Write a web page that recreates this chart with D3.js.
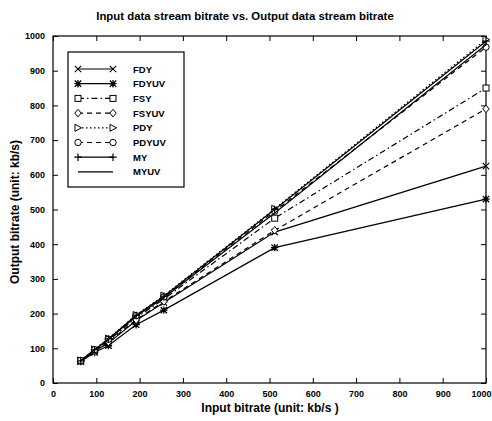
<!DOCTYPE html>
<html>
<head>
<meta charset="utf-8">
<script src="https://cdn.jsdelivr.net/npm/d3@7"></script>
<style>
  body { margin: 0; background: #fff; }
  text { font-family: "Liberation Sans", Arial, sans-serif; font-weight: bold; fill: #000; }
</style>
</head>
<body>
<div id="chart"></div>
<script>
var width = 492, height = 421;

// input bitrates (kb/s)
var inputRates = [64, 96, 128, 192, 256, 512, 1000];

// output bitrate per method
var FDY   = [63, 92, 115, 180, 232, 435, 625];
var FDYUV = [62, 88, 108, 168, 210, 390, 530];
var FSY   = [64, 94, 122, 188, 242, 475, 850];
var FSYUV = [63, 92, 118, 182, 235, 440, 790];
var PDY   = [65, 97, 128, 196, 252, 502, 990];
var PDYUV = [65, 96, 126, 194, 248, 495, 968];
var MY    = [64, 96, 127, 195, 250, 500, 985];
var MYUV  = [64, 95, 125, 192, 246, 490, 975];

var seriesNames = ["FDY", "FDYUV", "FSY", "FSYUV", "PDY", "PDYUV", "MY", "MYUV"];
var seriesValues = [FDY, FDYUV, FSY, FSYUV, PDY, PDYUV, MY, MYUV];
var markers = ["x", "star", "square", "diamond", "triangle", "circle", "plus", "none"];
var dashes = [null, null, "6,3,1.5,3", "5,4", "1.5,2.5", "5,4", null, null];

var xTicks = [0, 100, 200, 300, 400, 500, 600, 700, 800, 900, 1000];
var yTicks = [0, 100, 200, 300, 400, 500, 600, 700, 800, 900, 1000];

var margin = {left: 53, right: 6, top: 36, bottom: 38};

var svg = d3.select("#chart").append("svg").attr("width", width).attr("height", height);

var x = d3.scaleLinear().domain([0, 1000]).range([margin.left, width - margin.right]);
var y = d3.scaleLinear().domain([0, 1000]).range([height - margin.bottom, margin.top]);

// frame
svg.append("rect")
    .attr("x", x(0)).attr("y", y(1000))
    .attr("width", x(1000) - x(0)).attr("height", y(0) - y(1000))
    .attr("fill", "none").attr("stroke", "#000").attr("stroke-width", 1.2);

var tickLen = 5;
var fmt = d3.format("d");
svg.append("g").attr("transform", "translate(0," + y(0) + ")")
    .call(d3.axisBottom(x).tickValues(xTicks).tickFormat(fmt).tickSizeInner(-tickLen).tickSizeOuter(0).tickPadding(8))
    .call(function(g){
        g.select(".domain").remove();
        g.selectAll("text").attr("font-size", 9).style("font-family", "inherit");
        // keep the last label inside the window
        g.selectAll(".tick").filter(function(d){ return d === 1000; }).select("text")
            .attr("text-anchor", "end").attr("x", width - x(1000) - 1);
    });
svg.append("g").attr("transform", "translate(0," + y(1000) + ")")
    .call(d3.axisTop(x).tickValues(xTicks).tickSizeInner(-tickLen).tickSizeOuter(0).tickFormat(""))
    .call(function(g){ g.select(".domain").remove(); });
svg.append("g").attr("transform", "translate(" + x(0) + ",0)")
    .call(d3.axisLeft(y).tickValues(yTicks).tickFormat(fmt).tickSizeInner(-tickLen).tickSizeOuter(0).tickPadding(8))
    .call(function(g){ g.select(".domain").remove(); g.selectAll("text").attr("font-size", 9).style("font-family", "inherit"); });
svg.append("g").attr("transform", "translate(" + x(1000) + ",0)")
    .call(d3.axisRight(y).tickValues(yTicks).tickSizeInner(-tickLen).tickSizeOuter(0).tickFormat(""))
    .call(function(g){ g.select(".domain").remove(); });
svg.selectAll(".tick line").attr("stroke", "#000").attr("stroke-width", 1);

function drawMarker(g, type, cx, cy){
    var s = 3.2;
    if (type === "x") {
        g.append("path").attr("d", "M" + (cx - s) + "," + (cy - s) + "L" + (cx + s) + "," + (cy + s) + "M" + (cx - s) + "," + (cy + s) + "L" + (cx + s) + "," + (cy - s))
            .attr("stroke", "#000").attr("stroke-width", 1.1);
    } else if (type === "star") {
        g.append("path").attr("d", "M" + (cx - s) + "," + (cy - s) + "L" + (cx + s) + "," + (cy + s) + "M" + (cx - s) + "," + (cy + s) + "L" + (cx + s) + "," + (cy - s) + "M" + (cx - s - 0.5) + "," + cy + "L" + (cx + s + 0.5) + "," + cy + "M" + cx + "," + (cy - s - 0.5) + "L" + cx + "," + (cy + s + 0.5))
            .attr("stroke", "#000").attr("stroke-width", 1.3);
    } else if (type === "plus") {
        g.append("path").attr("d", "M" + (cx - s - 0.5) + "," + cy + "L" + (cx + s + 0.5) + "," + cy + "M" + cx + "," + (cy - s - 0.5) + "L" + cx + "," + (cy + s + 0.5))
            .attr("stroke", "#000").attr("stroke-width", 1.2);
    } else if (type === "square") {
        g.append("rect").attr("x", cx - 3).attr("y", cy - 3).attr("width", 6).attr("height", 6)
            .attr("fill", "#fff").attr("stroke", "#000").attr("stroke-width", 1);
    } else if (type === "diamond") {
        g.append("path").attr("d", "M" + cx + "," + (cy - 3.8) + "L" + (cx + 3.2) + "," + cy + "L" + cx + "," + (cy + 3.8) + "L" + (cx - 3.2) + "," + cy + "Z")
            .attr("fill", "#fff").attr("stroke", "#000").attr("stroke-width", 1);
    } else if (type === "triangle") {
        g.append("path").attr("d", "M" + (cx - 3) + "," + (cy - 3.5) + "L" + (cx + 3.5) + "," + cy + "L" + (cx - 3) + "," + (cy + 3.5) + "Z")
            .attr("fill", "#fff").attr("stroke", "#000").attr("stroke-width", 1);
    } else if (type === "circle") {
        g.append("circle").attr("cx", cx).attr("cy", cy).attr("r", 3.2)
            .attr("fill", "#fff").attr("stroke", "#000").attr("stroke-width", 1);
    }
}

var line = d3.line().x(function(d){ return x(d[0]); }).y(function(d){ return y(d[1]); });

seriesValues.forEach(function(vals, i){
    var pts = inputRates.map(function(r, j){ return [r, vals[j]]; });
    var g = svg.append("g");
    g.append("path").datum(pts).attr("d", line)
        .attr("fill", "none").attr("stroke", "#000").attr("stroke-width", 1.2)
        .attr("stroke-dasharray", dashes[i]);
    pts.forEach(function(p){ drawMarker(g, markers[i], x(p[0]), y(p[1])); });
});

// legend
var lg = svg.append("g");
lg.append("rect").attr("x", 68).attr("y", 52).attr("width", 116).attr("height", 135)
    .attr("fill", "#fff").attr("stroke", "#000").attr("stroke-width", 1.2);
seriesNames.forEach(function(name, i){
    var ly = 69 + i * 14.7;
    lg.append("line").attr("x1", 78).attr("x2", 113).attr("y1", ly).attr("y2", ly)
        .attr("stroke", "#000").attr("stroke-width", 1.2).attr("stroke-dasharray", dashes[i]);
    drawMarker(lg, markers[i], 78, ly);
    drawMarker(lg, markers[i], 113, ly);
    lg.append("text").attr("x", 133).attr("y", ly + 3.5).attr("font-size", 9.5).text(name);
});

// title and axis labels
svg.append("text").attr("x", 245).attr("y", 20).attr("text-anchor", "middle").attr("font-size", 11.4)
    .text("Input data stream bitrate vs. Output data stream bitrate");
svg.append("text").attr("x", 270).attr("y", 412).attr("text-anchor", "middle").attr("font-size", 12)
    .text("Input bitrate (unit: kb/s )");
svg.append("text").attr("transform", "translate(19," + 212 + ") rotate(-90)").attr("text-anchor", "middle").attr("font-size", 12)
    .text("Output bitrate (unit: kb/s)");
</script>
</body>
</html>
